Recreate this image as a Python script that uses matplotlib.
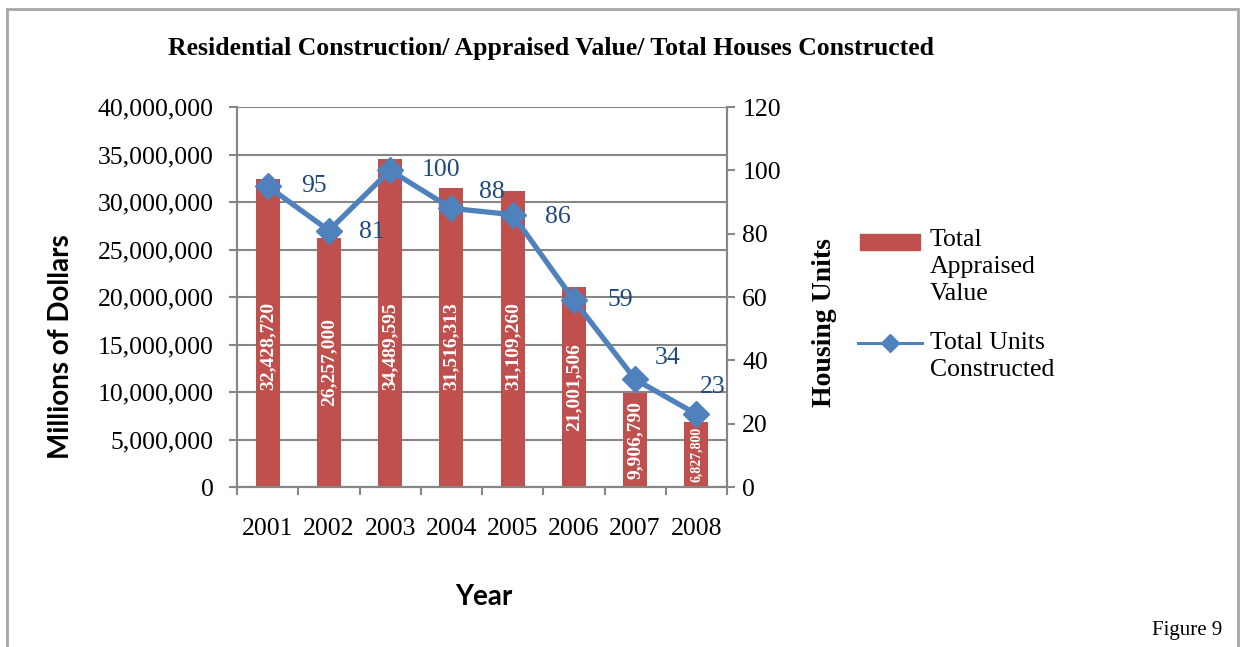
import matplotlib
matplotlib.use("Agg")
import matplotlib.pyplot as plt
import numpy as np
from matplotlib.patches import Rectangle
from matplotlib.lines import Line2D

# chart data
years = ["2001", "2002", "2003", "2004", "2005", "2006", "2007", "2008"]
appraised = [32428720, 26257000, 34489595, 31516313, 31109260, 21001506, 9906790, 6827800]
units = [95, 81, 100, 88, 86, 59, 34, 23]

# where Excel put the line labels, relative to each point (pixels)
label_offsets = [(46, 0), (43, -1), (51, 0), (40, 16), (45, -2), (46, 0), (33, 21), (16, 27)]

RED = "#C0504D"
BLUE = "#4F81BD"
DARKBLUE = "#1F497D"
GRID = "#868686"
SERIF = "Liberation Serif"
SANS = "Lato"

fig = plt.figure(figsize=(12.44, 6.47), dpi=100)
ax = fig.add_axes([237/1244, 1-487/647, 490/1244, 380/647])
ax2 = ax.twinx()

x = np.arange(len(years))
ax.bar(x, appraised, width=0.39, color=RED, zorder=2)
ax.set_xlim(-0.5, len(years) - 0.5)
ax.set_ylim(0, 40000000)
ax.set_yticks(np.arange(0, 40000001, 5000000))
ax.set_yticklabels(["{:,}".format(v) for v in range(0, 40000001, 5000000)],
                   fontfamily=SERIF, fontsize=18.5)
ax.grid(axis="y", color=GRID, linewidth=1.5, zorder=0)
ax.set_axisbelow(True)

ax.set_xticks(x)
ax.set_xticklabels(years, fontfamily=SERIF, fontsize=18.5)
ax.set_xticks(np.arange(-0.5, len(years)), minor=True)
ax.tick_params(axis="x", which="major", length=0, pad=22)
ax.tick_params(axis="x", which="minor", length=6, width=1.5, color=GRID)
ax.tick_params(axis="y", length=6, width=1.5, color=GRID, pad=11)

ax.spines["top"].set_visible(False)
ax2.spines["top"].set_visible(False)
for s in ["left", "bottom", "right"]:
    ax.spines[s].set_color(GRID)
    ax.spines[s].set_linewidth(1.5)
    ax2.spines[s].set_color(GRID)
    ax2.spines[s].set_linewidth(1.5)

# values written inside the bars
for xi, v in zip(x, appraised):
    fs = 14 if v > 8000000 else 10
    ax.text(xi, min(v / 2, 14800000), "{:,}".format(v), rotation=90,
            ha="center", va="center", color="white", fontweight="bold",
            fontfamily=SERIF, fontsize=fs, zorder=3)

ax2.plot(x, units, color=BLUE, linewidth=3.8, marker="D", markersize=13,
         zorder=4)
ax2.set_ylim(0, 120)
ax2.set_yticks(np.arange(0, 121, 20))
ax2.set_yticklabels([str(v) for v in range(0, 121, 20)], fontfamily=SERIF, fontsize=18.5)
ax2.tick_params(axis="y", length=6, width=1.5, color=GRID, pad=5)
for xi, u, off in zip(x, units, label_offsets):
    ax2.annotate(str(u), (xi, u), xytext=off, textcoords="offset pixels",
                 ha="center", va="center", color=DARKBLUE,
                 fontfamily=SERIF, fontsize=18.5)

ax.set_ylabel("Millions of Dollars", fontfamily=SANS, fontweight="bold", fontsize=20)
ax.yaxis.set_label_coords(74/1244, 300/647, transform=fig.transFigure)
ax2.set_ylabel("Housing Units", fontfamily=SERIF, fontweight="bold", fontsize=20)
ax2.yaxis.set_label_coords(812/1244, 324/647, transform=fig.transFigure)
ax.set_xlabel("Year", fontfamily=SANS, fontweight="bold", fontsize=20)
ax.xaxis.set_label_coords(484/1244, 1-584/647, transform=fig.transFigure)

fig.text(551/1244, 1-49/647, "Residential Construction/ Appraised Value/ Total Houses Constructed",
         ha="center", va="center", fontfamily=SERIF, fontweight="bold", fontsize=18.5)

# legend drawn by hand so handles sit on the first text line
fig.patches.append(Rectangle((860/1244, 1-250/647), 60/1244, 16/647,
                             transform=fig.transFigure, color=RED))
fig.text(930/1244, 1-229/647, "Total\nAppraised\nValue", ha="left", va="top",
         fontfamily=SERIF, fontsize=18.5, linespacing=1.3)
fig.lines.append(Line2D([858/1244, 890/1244, 922/1244], [1-343/647] * 3,
                        transform=fig.transFigure, color=BLUE, linewidth=2.2,
                        marker="D", markersize=9, markevery=[1]))
fig.text(930/1244, 1-332/647, "Total Units\nConstructed", ha="left", va="top",
         fontfamily=SERIF, fontsize=18.5, linespacing=1.3)

fig.text(1222/1244, 1-630/647, "Figure 9", ha="right", va="center",
         fontfamily=SERIF, fontsize=15)

# grey frame round the whole chart
fig.patches.append(Rectangle((7/1244, -0.05), 1231/1244, 1.05 - 9/647,
                             transform=fig.transFigure, fill=False,
                             edgecolor="#A6A6A6", linewidth=2))

fig.savefig("out.png", dpi=100)
